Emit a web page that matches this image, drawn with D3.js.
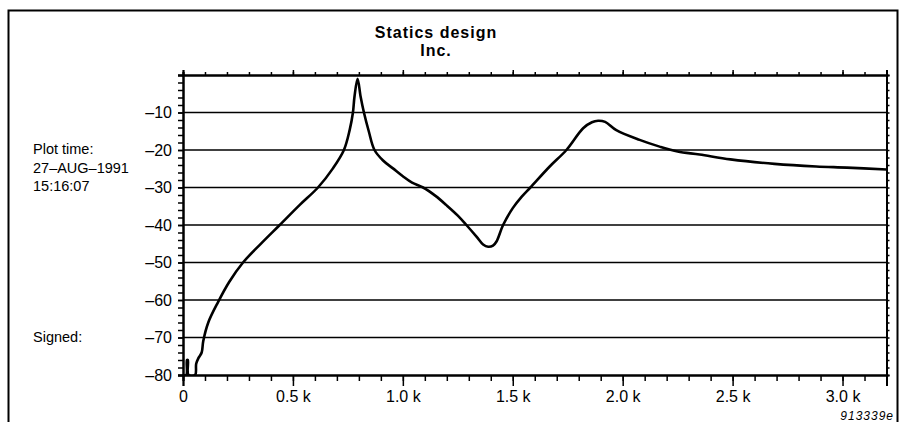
<!DOCTYPE html>
<html>
<head>
<meta charset="utf-8">
<script src="https://cdn.jsdelivr.net/npm/d3@7"></script>
<style>
  body { margin: 0; background: #fff; }
  svg { display: block; font-family: "Liberation Sans", Arial, sans-serif; }
</style>
</head>
<body>
<svg id="chart" width="904" height="422"></svg>
<script>
// frequency in Hz, level in dB
const freq = [0, 15, 18, 22, 25, 55, 60, 70, 85, 92, 115, 160, 210, 273, 356, 440, 530, 614, 682, 732, 758, 773, 780, 794, 808, 823, 845, 871, 910, 955, 1000, 1042, 1092, 1150, 1198, 1250, 1289, 1335, 1365, 1388, 1410, 1426, 1456, 1500, 1540, 1580, 1668, 1744, 1820, 1860, 1888, 1920, 1971, 2077, 2168, 2250, 2350, 2490, 2690, 2880, 3020, 3200];
const level = [-80, -80, -76, -76, -80, -80, -77, -75.5, -74, -71, -66, -60.5, -55.2, -50, -44.9, -40, -34.7, -30, -24.9, -20, -14.7, -10, -5.8, -1, -5.8, -10, -15, -20, -22.8, -24.9, -27, -28.7, -30, -32.3, -34.7, -37.5, -40, -43.1, -45.2, -45.8, -45.5, -44.4, -40, -35.5, -32.5, -30, -24.4, -20, -14.2, -12.6, -12.2, -12.5, -14.7, -17.3, -19.1, -20.4, -21.2, -22.5, -23.7, -24.4, -24.7, -25.2];

const xMajor = [0, 500, 1000, 1500, 2000, 2500, 3000];
const xLabels = ["0", "0.5 k", "1.0 k", "1.5 k", "2.0 k", "2.5 k", "3.0 k"];
const yMajor = [-80, -70, -60, -50, -40, -30, -20, -10];
const yLabels = ["\u201380", "\u201370", "\u201360", "\u201350", "\u201340", "\u201330", "\u201320", "\u201310"];
const infoLines = ["Plot time:", "27\u2013AUG\u20131991", "15:16:07"];

const svg = d3.select("#chart");
const pLeft = 183, pRight = 886.5, pTop = 75, pBottom = 375;

const x = d3.scaleLinear().domain([0, 3200]).range([pLeft, pRight]);
const y = d3.scaleLinear().domain([-80, 0]).range([pBottom, pTop]);

// outer frame
svg.append("rect")
  .attr("x", 8.5).attr("y", 10.5)
  .attr("width", 889).attr("height", 430)
  .attr("fill", "none").attr("stroke", "#000").attr("stroke-width", 2);

// title
svg.selectAll(".title").data(["Statics design", "Inc."]).enter().append("text")
  .attr("class", "title")
  .attr("x", 436).attr("y", (d, i) => 38 + i * 18)
  .attr("text-anchor", "middle").attr("font-weight", "bold").attr("font-size", 16)
  .attr("letter-spacing", 1)
  .text(d => d);

// left side notes
svg.selectAll(".info").data(infoLines).enter().append("text")
  .attr("class", "info")
  .attr("x", 33).attr("y", (d, i) => 154 + i * 18.5)
  .attr("font-size", 14.5)
  .text(d => d);
svg.append("text").attr("x", 33).attr("y", 342).attr("font-size", 14.5).text("Signed:");

// grid lines
svg.append("g").selectAll("line").data(yMajor.filter(v => v > -80)).enter().append("line")
  .attr("x1", pLeft).attr("x2", pRight)
  .attr("y1", d => y(d)).attr("y2", d => y(d))
  .attr("stroke", "#000").attr("stroke-width", 1.5);

const xMinor = d3.range(0, 3201, 100);
const yMinor = d3.range(-80, 0.1, 2);

// bottom axis
svg.append("g").attr("transform", `translate(0,${pBottom})`)
  .call(d3.axisBottom(x).tickValues(xMinor).tickSize(6).tickFormat(""));
svg.append("g").attr("transform", `translate(0,${pBottom})`)
  .call(d3.axisBottom(x).tickValues(xMajor).tickSize(11)
    .tickFormat((d, i) => xLabels[i]).tickPadding(5));

// top axis
svg.append("g").attr("transform", `translate(0,${pTop})`)
  .call(d3.axisTop(x).tickValues(xMinor).tickSize(3).tickFormat(""));
svg.append("g").attr("transform", `translate(0,${pTop})`)
  .call(d3.axisTop(x).tickValues(xMajor).tickSize(5).tickFormat(""));

// left axis
svg.append("g").attr("transform", `translate(${pLeft},0)`)
  .call(d3.axisLeft(y).tickValues(yMinor).tickSize(5).tickFormat(""));
svg.append("g").attr("transform", `translate(${pLeft},0)`)
  .call(d3.axisLeft(y).tickValues(yMajor).tickSize(5)
    .tickFormat((d, i) => yLabels[i]).tickPadding(6));

// right axis
svg.append("g").attr("transform", `translate(${pRight},0)`)
  .call(d3.axisRight(y).tickValues(yMinor).tickSize(3).tickFormat(""));

svg.selectAll(".domain").attr("stroke", "#000").attr("stroke-width", 2);
svg.selectAll(".tick line").attr("stroke", "#000").attr("stroke-width", 1.5);
svg.selectAll(".tick text").attr("fill", "#000")
  .style("font-family", "'Liberation Sans', Arial, sans-serif").style("font-size", "16px");

// trace, clipped to the plot box
svg.append("clipPath").attr("id", "plotclip").append("rect")
  .attr("x", pLeft).attr("y", pTop - 2)
  .attr("width", pRight - pLeft).attr("height", pBottom - pTop + 2);

const pts = freq.map((f, i) => [f, level[i]]);
svg.append("path").datum(pts)
  .attr("clip-path", "url(#plotclip)")
  .attr("fill", "none").attr("stroke", "#000").attr("stroke-width", 2.6)
  .attr("stroke-linejoin", "round")
  .attr("d", d3.line().curve(d3.curveCatmullRom.alpha(0.5)).x(d => x(d[0])).y(d => y(d[1])));

// figure code
svg.append("text").attr("x", 894).attr("y", 420)
  .attr("text-anchor", "end").attr("font-style", "italic").attr("font-size", 12)
  .attr("letter-spacing", 1)
  .text("913339e");
</script>
</body>
</html>
